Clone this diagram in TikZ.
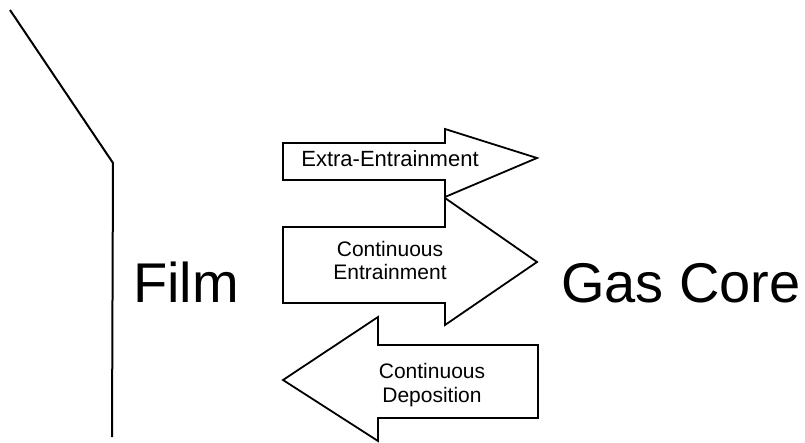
\documentclass[tikz,border=0pt]{standalone}
\usepackage{fontspec}
\setmainfont{Liberation Sans}
\begin{document}
\begin{tikzpicture}[x=1pt,y=-1pt,
  outline/.style={draw=black,line width=2pt,line join=miter},
  bigarrow/.style={draw=black,line width=1.8pt,line join=miter,fill=white},
  biglabel/.style={inner sep=0pt,anchor=base,font=\fontsize{56}{60}\selectfont},
  arrowlabel/.style={inner sep=0pt,anchor=base,align=center,font=\fontsize{21}{23.5}\selectfont}]
\useasboundingbox (0,0) rectangle (805,443);
% film wall
\coordinate (wtop) at (10,10);
\coordinate (wknee) at (113,163);
\coordinate (wbot) at (112,437);
\draw[outline] (wtop) -- (wknee) -- (wbot);
% arrows
\draw[bigarrow] (283,143) -- (445,143) -- (445,129) -- (537,158) -- (445,197) -- (445,180) -- (283,180) -- cycle;
\draw[bigarrow] (283,227) -- (445,227) -- (445,198) -- (537,262) -- (445,325) -- (445,303) -- (283,303) -- cycle;
\draw[bigarrow] (538,345) -- (378,345) -- (378,317) -- (283,380) -- (378,441) -- (378,418) -- (538,418) -- cycle;
% labels
\node[arrowlabel,font=\fontsize{22}{24}\selectfont] (extra) at (390,167) {Extra-Entrainment};
\node[arrowlabel] (entr) at (390,280) {Continuous\\Entrainment};
\node[arrowlabel] (depo) at (432,402) {Continuous\\Deposition};
\node[biglabel] (film) at (186,303) {Film};
\node[biglabel] (gas) at (681,303) {Gas Core};
\end{tikzpicture}
\end{document}
